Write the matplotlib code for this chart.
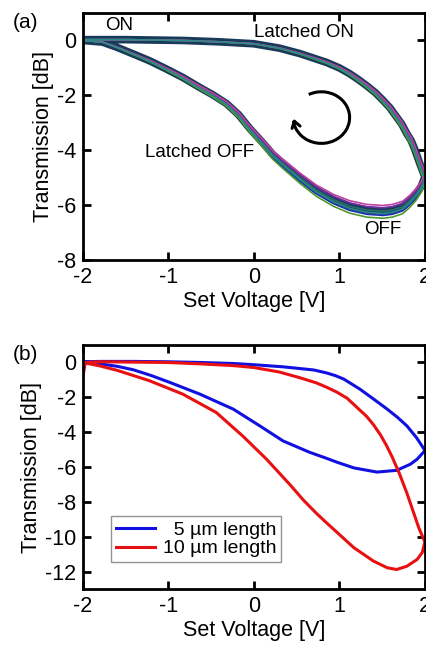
import numpy as np
import matplotlib
matplotlib.use("Agg")
import matplotlib.pyplot as plt
from matplotlib.patches import Arc

plt.rcParams['font.family'] = ['Liberation Sans', 'DejaVu Sans']
plt.rcParams['axes.unicode_minus'] = False

# ---- panel (a): hysteresis loop, several overlapping sweeps ----
a_x = [-2.0, -1.5, -0.83, -0.4, 0.0, 0.3, 0.54, 0.85, 1.0, 1.12, 1.22, 1.32, 1.42,
       1.51, 1.59, 1.66, 1.73, 1.79, 1.84, 1.88, 1.94, 2.0,
       1.96, 1.9, 1.82, 1.74, 1.62, 1.51, 1.32, 1.12, 0.93, 0.73, 0.54, 0.34, 0.22,
       0.11, -0.05, -0.18, -0.32, -0.48, -0.64, -0.83, -1.03, -1.22, -1.42, -1.6,
       -1.77, -2.0]
a_y = [0.03, 0.03, 0.0, -0.05, -0.12, -0.28, -0.48, -0.8, -1.0, -1.21, -1.42, -1.65,
       -1.9, -2.18, -2.45, -2.75, -3.05, -3.4, -3.65, -3.95, -4.48, -4.97,
       -5.3, -5.58, -5.85, -6.06, -6.18, -6.22, -6.18, -6.04, -5.8, -5.45, -5.0, -4.48,
       -4.15, -3.75, -3.2, -2.7, -2.3, -1.98, -1.7, -1.35, -1.03, -0.74, -0.48, -0.25,
       -0.06, 0.0]
# sweep-to-sweep spread (dB at the OFF minimum)
a_spread = [0.0, 0.15, -0.12, 0.25, -0.2, 0.08]
a_colors = ['#2a6f6a', '#1f2fb0', '#6a2fa0', '#4a9a30', '#c040a0', '#2a8a8a']

# ---- panel (b): two device lengths ----
b5_x = [-2.0, -1.8, -1.41, -1.02, -0.63, -0.24, 0.0, 0.34, 0.54, 0.7, 0.85, 0.95,
        1.05, 1.24, 1.4, 1.56, 1.68, 1.79, 1.9, 1.98, 2.0,
        1.98, 1.91, 1.83, 1.67, 1.44, 1.17, 0.97, 0.85, 0.65, 0.34, 0.07, -0.24,
        -0.63, -0.98, -1.2, -1.41, -1.6, -1.8, -2.0]
b5_y = [0.04, 0.06, 0.06, 0.04, 0.0, -0.06, -0.13, -0.25, -0.35, -0.43, -0.6, -0.75,
        -0.95, -1.53, -2.1, -2.68, -3.15, -3.64, -4.3, -4.89, -5.07,
        -5.17, -5.55, -5.84, -6.19, -6.29, -6.05, -5.72, -5.5, -5.15, -4.5, -3.64,
        -2.68, -1.82, -1.15, -0.75, -0.42, -0.22, -0.08, 0.04]
b10_x = [-2.0, -1.97, -1.8, -1.41, -1.02, -0.63, -0.24, 0.0, 0.3, 0.54, 0.73, 0.85,
         0.97, 1.09, 1.32, 1.4, 1.48, 1.55, 1.62, 1.7, 1.79, 1.86, 1.93, 2.0,
         1.97, 1.91, 1.79, 1.67, 1.56, 1.4, 1.17, 0.85, 0.73, 0.58, 0.42, 0.15, -0.13,
         -0.44, -0.83, -1.22, -1.6, -1.8, -2.0]
b10_y = [-0.8, 0.0, 0.04, 0.02, 0.0, -0.08, -0.18, -0.29, -0.55, -0.88, -1.17, -1.42,
         -1.7, -2.05, -3.1, -3.58, -4.15, -4.75, -5.45, -6.35, -7.5, -8.5, -9.5, -10.3,
         -10.9, -11.3, -11.69, -11.88, -11.78, -11.4, -10.63, -9.2, -8.65, -7.9, -7.0,
         -5.56, -4.22, -2.87, -1.82, -1.05, -0.45, -0.2, 0.0]

fig = plt.figure(figsize=(4.27, 6.51), dpi=100)
ax1 = fig.add_axes([0.194, 0.6006, 0.801, 0.3794])
ax2 = fig.add_axes([0.194, 0.0952, 0.801, 0.3748])

for ax in (ax1, ax2):
    for s in ax.spines.values():
        s.set_linewidth(2)
    ax.tick_params(direction='in', length=6, width=2, top=True, right=True,
                   labelsize=15.5, pad=5)
    ax.set_xlim(-2, 2)
    ax.set_xticks([-2, -1, 0, 1, 2])
    ax.set_xlabel("Set Voltage [V]", fontsize=15.5, labelpad=2)
    ax.set_ylabel("Transmission [dB]", fontsize=15.5, labelpad=2)

# (a)
ax1.plot(a_x, a_y, color='#1a3a5a', lw=5.5, solid_joinstyle='round')
ya = np.array(a_y)
for sp, c in zip(a_spread, a_colors):
    ax1.plot(a_x, ya + sp * ya / 6.0, color=c, lw=1.2)
ax1.set_ylim(-8, 1)
ax1.set_yticks([0, -2, -4, -6, -8])
ax1.text(-1.57, 0.55, "ON", fontsize=13.5, ha='center', va='center')
ax1.text(0.58, 0.28, "Latched ON", fontsize=13.5, ha='center', va='center')
ax1.text(-0.63, -4.1, "Latched OFF", fontsize=13.5, ha='center', va='center')
ax1.text(1.51, -6.9, "OFF", fontsize=13.5, ha='center', va='center')
ax1.add_patch(Arc((0.79, -2.81), 0.66, 1.88, theta1=-160, theta2=100,
                  color='black', lw=2.2))
ax1.annotate("", xy=(0.455, -2.75), xytext=(0.49, -3.12),
             arrowprops=dict(arrowstyle='->,head_length=0.45,head_width=0.3',
                             color='black', lw=2.2))
fig.text(0.03, 0.965, "(a)", fontsize=15, ha='left', va='center')

# (b)
ax2.plot(b5_x, b5_y, color='#1010e0', lw=2.2, label="  5 µm length")
ax2.plot(b10_x, b10_y, color='#e81010', lw=2.2, label="10 µm length")
ax2.set_ylim(-13, 1)
ax2.set_yticks([0, -2, -4, -6, -8, -10, -12])
leg = ax2.legend(loc='lower left', fontsize=14, frameon=True, fancybox=False,
                 handlelength=2.0, borderpad=0.25, labelspacing=0.05,
                 handletextpad=0.4, bbox_to_anchor=(0.055, 0.07))
leg.get_frame().set_edgecolor('#777777')
leg.get_frame().set_linewidth(1)
fig.text(0.03, 0.456, "(b)", fontsize=15, ha='left', va='center')

fig.savefig("out.png", dpi=100)
